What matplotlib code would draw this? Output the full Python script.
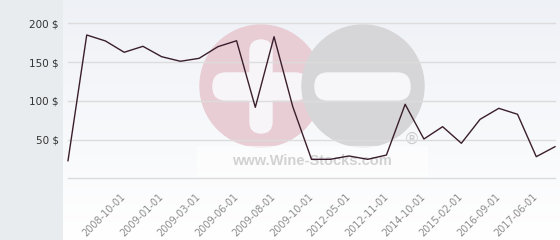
import numpy as np
import matplotlib.pyplot as plt
from matplotlib.patches import Circle, FancyBboxPatch, Rectangle

prices = [22.7, 184.9, 177.2, 162.6, 170.3, 156.9, 151.0, 154.8, 169.8, 177.5,
          91.6, 182.7, 92.4, 24.5, 24.5, 28.8, 24.5, 30.0, 95.5, 50.7,
          66.6, 45.2, 76.1, 90.3, 82.6, 27.9, 40.8]
tick_idx = [3, 5, 7, 9, 11, 13, 15, 17, 19, 21, 23, 25]
tick_labels = ['2008-10-01', '2009-01-01', '2009-03-01', '2009-06-01',
               '2009-08-01', '2009-10-01', '2012-05-01', '2012-11-01',
               '2014-10-01', '2015-02-01', '2016-09-01', '2017-06-01']
y_ticks = [50, 100, 150, 200]

W, H = 560, 240
fig = plt.figure(figsize=(W / 100, H / 100), dpi=100, facecolor='#e8ecef')

# plot background with gradient and watermark, in pixel coords
bg = fig.add_axes([63 / W, 0, (W - 63) / W, 1])
bg.set_xlim(63, W)
bg.set_ylim(H, 0)
bg.axis('off')
grad = np.linspace(0, 1, 256)[:, None]
top = np.array([0.935, 0.945, 0.965])
img = top[None, None, :] * (1 - grad[:, :, None]) + np.ones(3)[None, None, :] * grad[:, :, None]
bg.imshow(img, extent=[63, W, H, 0], aspect='auto', zorder=0)

bg.add_patch(Circle((261, 86), 61, color='#e9cdd4', zorder=1))
bg.add_patch(FancyBboxPatch((250, 40), 22, 93, boxstyle='round,pad=0,rounding_size=11',
                            color='#f7f5f8', zorder=2))
bg.add_patch(FancyBboxPatch((213, 73), 95, 27, boxstyle='round,pad=0,rounding_size=13',
                            color='#f7f5f8', zorder=2))
bg.add_patch(Circle((363, 86), 61, color='#d6d6d8', zorder=3))
bg.add_patch(FancyBboxPatch((315, 73), 95, 27, boxstyle='round,pad=0,rounding_size=13',
                            color='#f7f7f9', zorder=4))
bg.add_patch(Rectangle((197, 146), 230, 30, color='white', alpha=0.5, zorder=5))
bg.text(312, 161, 'www.Wine-Stocks.com', ha='center', va='center', fontsize=10.5,
        fontweight='bold', family='Liberation Sans', color='#d2d2d2', zorder=6)
bg.text(412, 139, '®', ha='center', va='center', fontsize=11.5, color='#cccccc', zorder=6)

# data axes
y0, y200 = 178.3, 23.3
ax = fig.add_axes([68 / W, (H - y0) / H, 487 / W, (y0 - y200) / H])
ax.patch.set_alpha(0)
ax.set_xlim(0, len(prices) - 1)
ax.set_ylim(0, 200)
for s in ax.spines.values():
    s.set_visible(False)
for v in [0] + y_ticks:
    ax.axhline(v, color='#dcdcdc', lw=1, zorder=1, clip_on=False)

ax.plot(range(len(prices)), prices, color='#3a1e2c', lw=1, zorder=3, clip_on=False)

ax.set_yticks(y_ticks)
ax.set_yticklabels([f'{v} $' for v in y_ticks], fontsize=7.5, color='#333333')
ax.tick_params(axis='y', length=0, pad=6.5)
ax.set_xticks(tick_idx)
ax.set_xticklabels(tick_labels, rotation=45, ha='right', va='center',
                   rotation_mode='anchor', fontsize=7, color='#8c8c8c')
ax.tick_params(axis='x', length=0, pad=12)

fig.savefig('out.png', dpi=100)
